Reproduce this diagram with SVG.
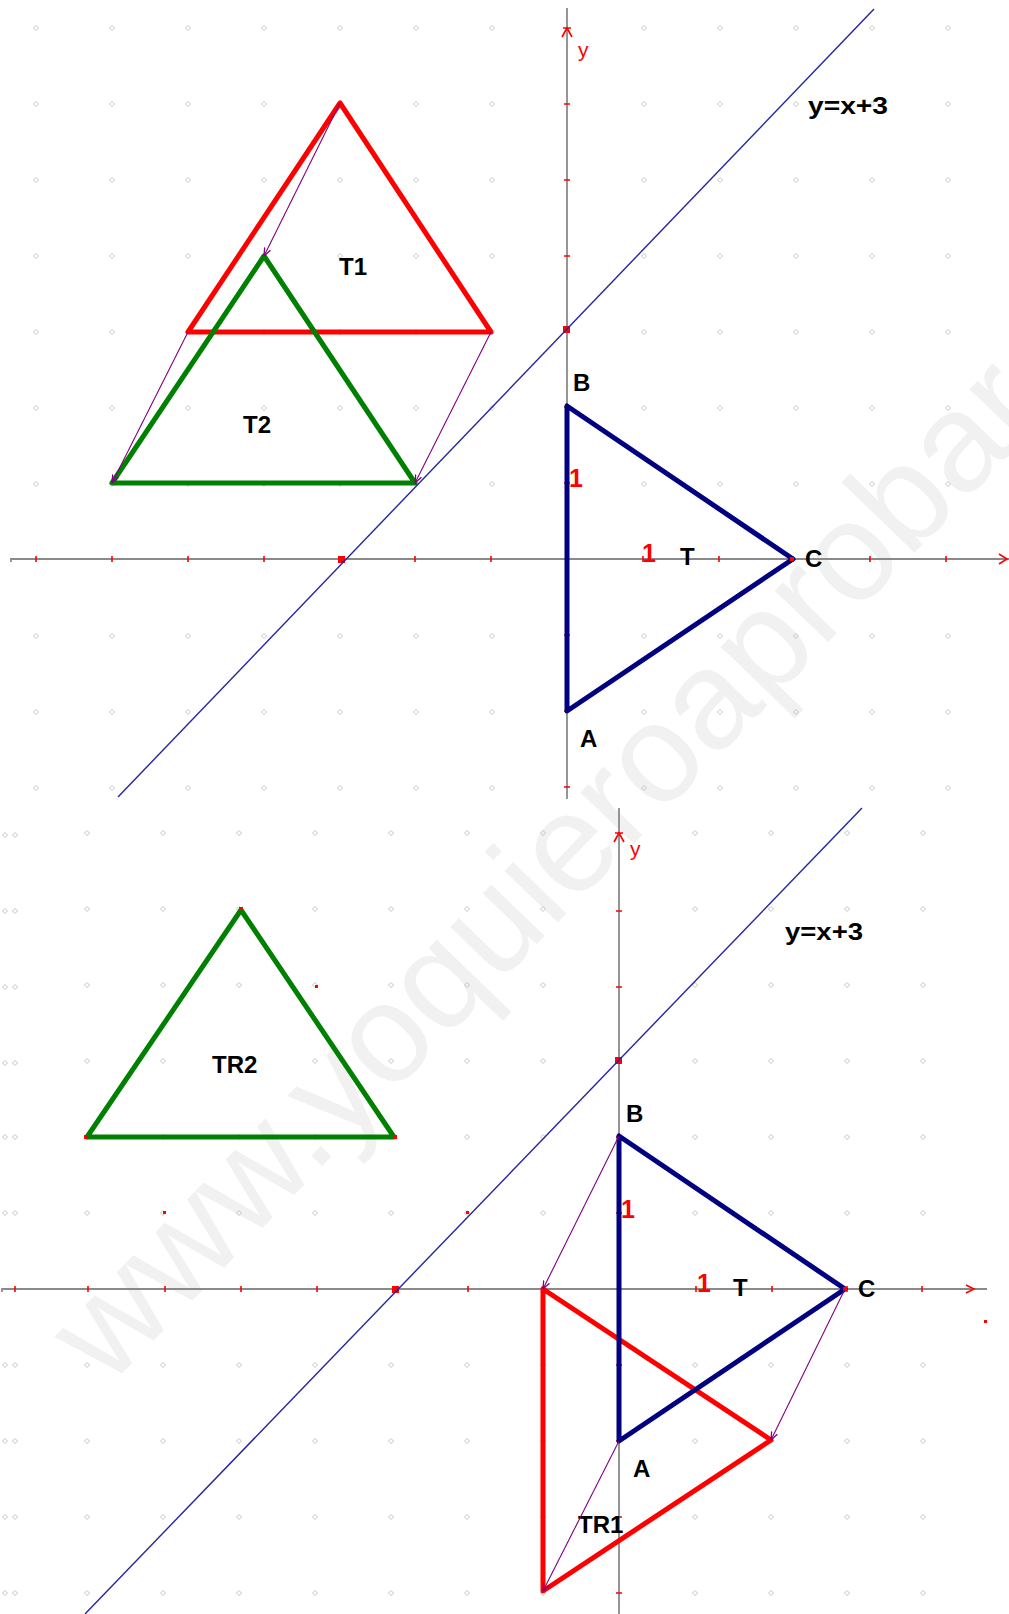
<svg xmlns="http://www.w3.org/2000/svg" width="1009" height="1614" viewBox="0 0 1009 1614">
<defs>
  <pattern id="gTop" patternUnits="userSpaceOnUse" x="-2" y="-10" width="76" height="76">
    <path d="M38,35.5 L40.5,38 L38,40.5 L35.5,38 Z" fill="none" stroke="#c4c4c4" stroke-width="1"/>
  </pattern>
  <pattern id="gBot" patternUnits="userSpaceOnUse" x="-27" y="795" width="76" height="76">
    <path d="M38,35.5 L40.5,38 L38,40.5 L35.5,38 Z" fill="none" stroke="#c4c4c4" stroke-width="1"/>
  </pattern>
  <path id="dot" d="M0,-2.5 L2.5,0 L0,2.5 L-2.5,0 Z" fill="none" stroke="#c4c4c4" stroke-width="1"/>
  <marker id="arr" viewBox="0 0 10 10" refX="10" refY="5" markerWidth="8" markerHeight="8" markerUnits="userSpaceOnUse" orient="auto">
    <path d="M0,1 L10,5 L0,9" fill="none" stroke="#800080" stroke-width="1.6"/>
  </marker>
</defs>
<style>
  .lbl{font-family:"Liberation Sans",Arial,sans-serif;font-weight:bold;font-size:24px;fill:#000}
  .num{font-family:"Liberation Sans",Arial,sans-serif;font-weight:bold;font-size:25px;fill:#f00}
  .ylb{font-family:"Liberation Sans",Arial,sans-serif;font-size:21px;fill:#f00}
  .ax{stroke:#8a8a8a;stroke-width:1.8;fill:none}
  .tk{stroke:#f00;stroke-width:1.6;fill:none}
  .ln{stroke:#2424a0;stroke-width:1.4;fill:none}
  .tri{fill:none;stroke-width:5;stroke-linejoin:round;stroke-linecap:round}
  .red{stroke:#ff0000}
  .grn{stroke:#008000}
  .nvy{stroke:#000080}
  .vp{fill:#f00}
  .conn{stroke:#800080;stroke-width:1.1;fill:none}
</style>
<rect x="0" y="0" width="1009" height="1614" fill="#fff"/>

<!-- watermark -->
<text id="watermark" transform="translate(108,1388) rotate(-46)" font-family="'Liberation Sans',Arial,sans-serif" font-size="140" fill="#f1f1f1">www.yoquieroaprobar</text>

<!-- grid dots -->
<g id="grid">
  <rect x="0" y="0" width="560" height="552" fill="url(#gTop)"/>
  <rect x="574" y="0" width="435" height="552" fill="url(#gTop)"/>
  <rect x="0" y="566" width="560" height="232" fill="url(#gTop)"/>
  <rect x="574" y="566" width="435" height="232" fill="url(#gTop)"/>
  <rect x="30" y="805" width="582" height="477" fill="url(#gBot)"/>
  <rect x="626" y="805" width="334" height="477" fill="url(#gBot)"/>
  <rect x="30" y="1296" width="582" height="318" fill="url(#gBot)"/>
  <rect x="626" y="1296" width="334" height="318" fill="url(#gBot)"/>
  <use href="#dot" x="5" y="835"/><use href="#dot" x="15" y="835"/>
  <use href="#dot" x="5" y="911"/><use href="#dot" x="15" y="911"/>
  <use href="#dot" x="5" y="987"/><use href="#dot" x="15" y="987"/>
  <use href="#dot" x="5" y="1063"/><use href="#dot" x="15" y="1063"/>
  <use href="#dot" x="5" y="1137"/><use href="#dot" x="15" y="1137"/>
  <use href="#dot" x="5" y="1213"/><use href="#dot" x="15" y="1213"/>
  <use href="#dot" x="5" y="1365"/><use href="#dot" x="15" y="1365"/>
  <use href="#dot" x="5" y="1441"/><use href="#dot" x="15" y="1441"/>
  <use href="#dot" x="5" y="1517"/><use href="#dot" x="15" y="1517"/>
  <use href="#dot" x="5" y="1593"/><use href="#dot" x="15" y="1593"/>
</g>

<!-- ===== TOP FIGURE ===== -->
<g id="axes-top">
  <path class="ax" d="M11,562 L11,559 L1009,559"/>
  <path class="ax" d="M567,8 L567,799"/>
  <path class="tk" d="M36,556v6M112,556v6M188,556v6M264,556v6M415,556v6M491,556v6M643,556v6M719,556v6M793,556v6M870,556v6M946,556v6"/>
  <path class="tk" d="M564,104h6M564,180h6M564,256h6M564,407h6M564,483h6M564,635h6M564,711h6M564,787h6"/>
  <path class="tk" d="M562,37 L567,28 L572,37 M563,28h8"/>
  <path class="tk" d="M999,554 L1007,559 L999,564"/>
  <rect class="vp" x="563" y="326" width="7" height="7"/>
  <rect class="vp" x="338" y="556" width="7" height="7"/>
  <text class="ylb" x="578" y="57">y</text>
</g>
<g id="line-top">
  <path class="ln" d="M874,9 L118,797"/>
  <text class="lbl" x="808" y="114" textLength="80" lengthAdjust="spacingAndGlyphs">y=x+3</text>
</g>

<g id="T1">
  <polygon class="tri red" points="340,103 188,332 491,332"/>
  <text class="lbl" x="339" y="275" font-size="25">T1</text>
</g>
<g id="T2">
  <polygon class="tri grn" points="264,256 112,483 415,483"/>
  <text class="lbl" x="243" y="433" font-size="25">T2</text>
</g>
<g id="T-top">
  <polygon class="tri nvy" points="567,406 567,711 793,559"/>
  <rect class="vp" x="790" y="557" width="4" height="4"/>
  <text class="lbl" x="573" y="391">B</text>
  <text class="lbl" x="580" y="747">A</text>
  <text class="lbl" x="805" y="567">C</text>
  <text class="lbl" x="680" y="565">T</text>
  <text class="num" x="569" y="487">1</text>
  <text class="num" x="642" y="562">1</text>
</g>

<!-- ===== BOTTOM FIGURE ===== -->
<g id="axes-bottom">
  <path class="ax" d="M2,1292 L2,1289 L987,1289"/>
  <path class="ax" d="M619,808 L619,1614"/>
  <path class="tk" d="M15,1286v6M88,1286v6M165,1286v6M241,1286v6M317,1286v6M468,1286v6M543,1286v6M696,1286v6M772,1286v6M847,1286v6M922,1286v6"/>
  <path class="tk" d="M616,911h6M616,987h6M616,1137h6M616,1213h6M616,1365h6M616,1441h6M616,1517h6M616,1593h6"/>
  <path class="tk" d="M614,842 L619,833 L624,842 M615,833h8"/>
  <path class="tk" d="M966,1285 L974,1289 L966,1293"/>
  <rect class="vp" x="615" y="1057" width="7" height="7"/>
  <rect class="vp" x="392" y="1286" width="7" height="7"/>
  <rect class="vp" x="315" y="985" width="3" height="3"/>
  <rect class="vp" x="163" y="1211" width="3" height="3"/>
  <rect class="vp" x="466" y="1211" width="3" height="3"/>
  <rect class="vp" x="984" y="1320" width="3" height="3"/>
  <text class="ylb" x="630" y="856">y</text>
</g>
<g id="line-bottom">
  <path class="ln" d="M862,808 L85,1614"/>
  <text class="lbl" x="785" y="940" textLength="78" lengthAdjust="spacingAndGlyphs">y=x+3</text>
</g>

<g id="TR2">
  <polygon class="tri grn" points="241,910 87,1137 394,1137"/>
  <rect class="vp" x="239" y="907" width="4" height="3"/>
  <rect class="vp" x="84" y="1135" width="3" height="4"/>
  <rect class="vp" x="394" y="1135" width="3" height="4"/>
  <text class="lbl" x="212" y="1073" font-size="25">TR2</text>
</g>
<g id="TR1">
  <polygon class="tri red" points="543,1289 543,1591 771,1440"/>
  <text class="lbl" x="578" y="1533">TR1</text>
</g>
<g id="T-bottom">
  <polygon class="tri nvy" points="619,1136 619,1441 845,1289"/>
  <rect class="vp" x="843" y="1287" width="4" height="4"/>
  <text class="lbl" x="626" y="1122">B</text>
  <text class="lbl" x="633" y="1477">A</text>
  <text class="lbl" x="858" y="1297">C</text>
  <text class="lbl" x="733" y="1296">T</text>
  <text class="num" x="621" y="1218">1</text>
  <text class="num" x="697" y="1292">1</text>
</g>

<!-- connectors: translation arrows -->
<g id="connectors">
  <path class="conn" marker-end="url(#arr)" d="M340,103 L264,256"/>
  <path class="conn" marker-end="url(#arr)" d="M188,332 L112,483"/>
  <path class="conn" marker-end="url(#arr)" d="M491,332 L415,483"/>
  <path class="conn" marker-end="url(#arr)" d="M619,1136 L543,1289"/>
  <path class="conn" marker-end="url(#arr)" d="M845,1289 L771,1440"/>
  <path class="conn" marker-end="url(#arr)" d="M619,1441 L543,1591"/>
</g>
</svg>
